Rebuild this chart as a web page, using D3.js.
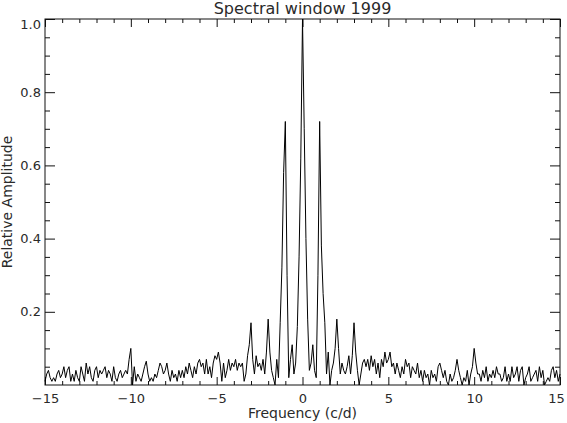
<!DOCTYPE html>
<html>
<head>
<meta charset="utf-8">
<script src="https://cdn.jsdelivr.net/npm/d3@7"></script>
<style>
  body { margin: 0; background: #fff; }
  svg text { font-family: "DejaVu Sans", sans-serif; fill: #2a2a2a; }
</style>
</head>
<body>
<div id="chart"></div>
<script>
// frequency grid (c/d) and relative amplitude, one row per 1 c/d
var fStart = -15, fStep = 0.1;
var amplitude = [
  0.01,0.03,0.04,0.02,0.01,0.02,0.01,0.03,0.04,0.02,   // -15
  0.03,0.05,0.02,0.04,0.05,0.01,0.03,0.01,0.04,0.02,   // -14
  0.01,0.05,0.03,0.01,0.06,0.03,0.05,0.02,0.01,0.04,   // -13
  0.05,0.02,0.04,0.03,0.04,0.05,0.02,0.04,0.03,0.01,   // -12
  0.05,0.02,0.01,0.03,0.04,0.02,0.03,0.04,0.03,0.07,   // -11
  0.10,0.00,0.05,0.01,0.03,0.02,0.01,0.03,0.05,0.065,  // -10
  0.03,0.01,0.02,0.01,0.03,0.02,0.04,0.06,0.05,0.03,   // -9
  0.04,0.06,0.03,0.01,0.04,0.02,0.03,0.01,0.04,0.02,   // -8
  0.04,0.02,0.05,0.03,0.06,0.04,0.02,0.05,0.03,0.06,   // -7
  0.07,0.05,0.06,0.03,0.07,0.03,0.05,0.02,0.06,0.08,   // -6
  0.07,0.09,0.06,0.01,0.06,0.02,0.04,0.07,0.04,0.06,   // -5
  0.05,0.07,0.04,0.06,0.05,0.06,0.01,0.03,0.08,0.11,   // -4
  0.17,0.07,0.03,0.08,0.05,0.06,0.04,0.07,0.03,0.09,   // -3
  0.18,0.09,0.04,0.02,0.00,0.07,0.02,0.17,0.32,0.58,   // -2
  0.72,0.30,0.02,0.07,0.11,0.03,0.06,0.16,0.35,0.62,   // -1
  1.00,0.70,0.40,0.18,0.04,0.06,0.11,0.04,0.02,0.30,   // 0
  0.72,0.38,0.25,0.17,0.03,0.09,0.00,0.04,0.06,0.10,   // 1
  0.18,0.10,0.03,0.06,0.04,0.03,0.05,0.08,0.03,0.08,   // 2
  0.17,0.09,0.04,0.00,0.03,0.06,0.07,0.05,0.07,0.04,   // 3
  0.08,0.05,0.07,0.03,0.06,0.02,0.07,0.05,0.09,0.06,   // 4
  0.07,0.09,0.05,0.06,0.03,0.06,0.04,0.02,0.05,0.03,   // 5
  0.07,0.05,0.06,0.02,0.05,0.04,0.03,0.06,0.02,0.04,   // 6
  0.01,0.04,0.02,0.03,0.00,0.04,0.02,0.03,0.01,0.05,   // 7
  0.06,0.04,0.02,0.04,0.01,0.00,0.03,0.01,0.02,0.04,   // 8
  0.07,0.04,0.02,0.00,0.02,0.01,0.04,0.00,0.03,0.05,   // 9
  0.10,0.06,0.03,0.03,0.01,0.04,0.02,0.05,0.01,0.03,   // 10
  0.02,0.04,0.02,0.05,0.03,0.03,0.01,0.02,0.05,0.01,   // 11
  0.03,0.01,0.05,0.02,0.03,0.05,0.01,0.04,0.05,0.00,   // 12
  0.02,0.03,0.05,0.01,0.02,0.03,0.04,0.01,0.05,0.02,   // 13
  0.04,0.00,0.01,0.02,0.01,0.04,0.05,0.02,0.04,0.01,   // 14
  0.03                                                 // 15
];
var xMajor = [-15, -10, -5, 0, 5, 10, 15];
var yMajor = [0.2, 0.4, 0.6, 0.8, 1.0];

var W = 567, H = 423;
var margin = {top: 19, right: 7, bottom: 38, left: 45};

var svg = d3.select("#chart").append("svg")
  .attr("width", W).attr("height", H);

var x = d3.scaleLinear().domain([-15, 15]).range([margin.left, W - margin.right]);
var y = d3.scaleLinear().domain([0, 1]).range([H - margin.bottom, margin.top]);

var xMinor = d3.range(-15, 16, 1).filter(function(d) { return d % 5 != 0; });
var yMinor = d3.range(1, 20).map(function(i) { return i * 0.05; })
  .filter(function(d) { return Math.abs(d * 5 - Math.round(d * 5)) > 1e-6; });

var fmtX = function(d) { return d < 0 ? "\u2212" + Math.abs(d) : d; };

function axis(gen, pos, vals, size, fmt, pad) {
  var g = svg.append("g").attr("transform", pos)
    .call(gen.tickValues(vals).tickSize(size).tickSizeOuter(0).tickPadding(pad || 3)
      .tickFormat(fmt || ""));
  g.select(".domain").remove();
  g.selectAll("line").attr("stroke", "#111");
  g.selectAll("text").attr("font-size", 13).attr("fill", "#2a2a2a")
    .style("font-family", "DejaVu Sans");
  return g;
}

var posBottom = "translate(0," + y(0) + ")", posTop = "translate(0," + y(1) + ")";
var posLeft = "translate(" + x(-15) + ",0)", posRight = "translate(" + x(15) + ",0)";

var xl = axis(d3.axisBottom(x), posBottom, xMajor, -8, fmtX, 9);
xl.selectAll("text").filter(function(d) { return d == 15; }).attr("dx", "-4");
axis(d3.axisBottom(x), posBottom, xMinor, -4);
axis(d3.axisTop(x), posTop, xMajor, -8);
axis(d3.axisTop(x), posTop, xMinor, -4);
var yl = axis(d3.axisLeft(y), posLeft, yMajor, -10, d3.format(".1f"), 4);
yl.selectAll("text").filter(function(d) { return d == 1; }).attr("dy", "0.7em");
axis(d3.axisLeft(y), posLeft, yMinor, -5);
axis(d3.axisRight(y), posRight, yMajor, -10);
axis(d3.axisRight(y), posRight, yMinor, -5);

// frame
svg.append("rect")
  .attr("x", x(-15)).attr("y", y(1))
  .attr("width", x(15) - x(-15)).attr("height", y(0) - y(1))
  .attr("fill", "none").attr("stroke", "#111").attr("stroke-width", 1);

// spectral window curve
var line = d3.line()
  .x(function(d, i) { return x(fStart + i * fStep); })
  .y(function(d) { return y(d); });

svg.append("path")
  .datum(amplitude)
  .attr("d", line)
  .attr("fill", "none")
  .attr("stroke", "#000")
  .attr("stroke-width", 1);

// titles
svg.append("text")
  .attr("x", (x(-15) + x(15)) / 2).attr("y", 14)
  .attr("text-anchor", "middle").attr("font-size", 16)
  .text("Spectral window 1999");

svg.append("text")
  .attr("x", (x(-15) + x(15)) / 2).attr("y", 418)
  .attr("text-anchor", "middle").attr("font-size", 14)
  .text("Frequency (c/d)");

svg.append("text")
  .attr("transform", "translate(12," + (y(0) + y(1)) / 2 + ") rotate(-90)")
  .attr("text-anchor", "middle").attr("font-size", 14)
  .text("Relative Amplitude");
</script>
</body>
</html>
